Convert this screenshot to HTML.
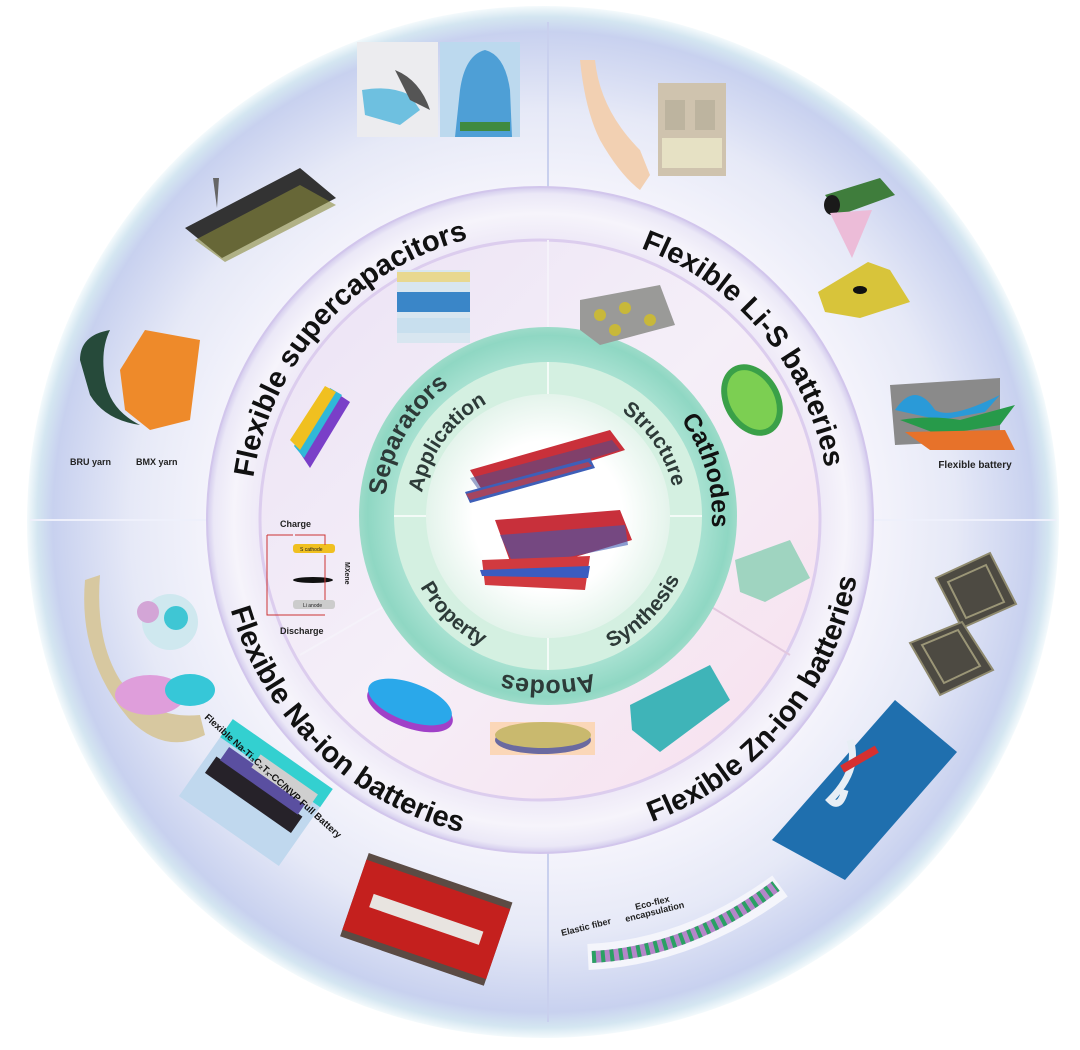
<!DOCTYPE html>
<html><head><meta charset="utf-8">
<style>
html,body{margin:0;padding:0;background:#fff;}
svg{display:block;}
text{font-family:"Liberation Sans","DejaVu Sans",sans-serif;}
</style></head>
<body>
<svg width="1080" height="1050" viewBox="0 0 1080 1050" xmlns="http://www.w3.org/2000/svg">
<defs>
<radialGradient id="outer" cx="543" cy="522" r="516" gradientUnits="userSpaceOnUse">
<stop offset="0.62" stop-color="#f6f5fc"/>
<stop offset="0.8" stop-color="#e6e9f7"/>
<stop offset="0.95" stop-color="#c8d1ef"/>
<stop offset="0.98" stop-color="#d4e6f1"/>
<stop offset="1" stop-color="#f4fafc"/>
</radialGradient>
<radialGradient id="band" cx="540" cy="520" r="333" gradientUnits="userSpaceOnUse">
<stop offset="0.84" stop-color="#eee9f7"/>
<stop offset="0.92" stop-color="#f6f4fb"/>
<stop offset="0.98" stop-color="#ebe8f7"/>
<stop offset="1" stop-color="#d3cbed"/>
</radialGradient>
<linearGradient id="inner" x1="0" y1="0" x2="1" y2="1">
<stop offset="0" stop-color="#ebe2f5"/>
<stop offset="0.5" stop-color="#f5eff8"/>
<stop offset="1" stop-color="#f8dfed"/>
</linearGradient>
<radialGradient id="teal" cx="548" cy="516" r="190" gradientUnits="userSpaceOnUse">
<stop offset="0.8" stop-color="#a9e2d2"/>
<stop offset="0.95" stop-color="#8fd7c3"/>
<stop offset="1" stop-color="#9fdcca"/>
</radialGradient>
<radialGradient id="center" cx="548" cy="516" r="125" gradientUnits="userSpaceOnUse">
<stop offset="0.6" stop-color="#ffffff"/>
<stop offset="1" stop-color="#e2f3ea"/>
</radialGradient>
<path id="pSup" d="M284,656 A290,290 0 0 1 648.6,251.1"/>
<path id="pLiS" d="M440.8,247.5 A290,290 0 0 1 791.1,665"/>
<path id="pZn" d="M429.9,822.6 A322,322 0 0 0 818.9,359"/>
<path id="pNa" d="M245.8,389 A322,322 0 0 0 681.2,809.4"/>
<path id="pSep" d="M406,598 A164,164 0 0 1 548,352"/>
<path id="pCat" d="M587.7,356.9 A164,164 0 0 1 666,629.9"/>
<path id="pAno" d="M690,598 A164,164 0 0 1 406,598"/>
<path id="pApp" d="M431.1,568.1 A128,128 0 0 1 561.4,388.7"/>
<path id="pStr" d="M539.1,388.3 A128,128 0 0 1 663,572.1"/>
<path id="pPro" d="M406.3,480.7 A146,146 0 0 0 588.2,656.3"/>
<path id="pSyn" d="M510.2,657 A146,146 0 0 0 689,478.2"/>
</defs>

<rect width="1080" height="1050" fill="#fff"/>
<circle cx="543" cy="522" r="516" fill="url(#outer)"/>
<line x1="548" y1="22" x2="548" y2="187" stroke="#c9d0ee" stroke-width="2"/>
<line x1="548" y1="852" x2="548" y2="1022" stroke="#c9d0ee" stroke-width="2"/>
<line x1="30" y1="520" x2="207" y2="520" stroke="#eef0fb" stroke-width="2"/>
<line x1="873" y1="520" x2="1056" y2="520" stroke="#eef0fb" stroke-width="2"/>

<circle cx="540" cy="520" r="333" fill="url(#band)"/>
<circle cx="540" cy="520" r="333" fill="none" stroke="#d2c6ec" stroke-width="2"/>
<circle cx="540" cy="520" r="280" fill="url(#inner)"/>
<circle cx="540" cy="520" r="280" fill="none" stroke="#dccdee" stroke-width="3"/>
<line x1="300" y1="655" x2="395" y2="600" stroke="#f5f2fa" stroke-width="2"/>
<line x1="700" y1="600" x2="790" y2="655" stroke="#e2c8df" stroke-width="2"/>
<line x1="548" y1="240" x2="548" y2="330" stroke="#f5f2fa" stroke-width="2"/>

<circle cx="548" cy="516" r="189" fill="url(#teal)"/>
<circle cx="548" cy="516" r="154" fill="#d4f0e1"/>
<circle cx="548" cy="516" r="122" fill="url(#center)"/>
<line x1="548" y1="362" x2="548" y2="394" stroke="#f3fbf7" stroke-width="2"/>
<line x1="548" y1="638" x2="548" y2="670" stroke="#f3fbf7" stroke-width="2"/>
<line x1="394" y1="516" x2="426" y2="516" stroke="#f3fbf7" stroke-width="2"/>
<line x1="670" y1="516" x2="702" y2="516" stroke="#f3fbf7" stroke-width="2"/>

<g>
<path d="M470,470 L610,430 L625,450 L485,495 Z" fill="#c9303a"/>
<path d="M470,478 L612,440 L620,450 L480,492 Z" fill="#3a4f9a" opacity="0.5"/>
<path d="M465,492 L590,458 L595,468 L470,503 Z" fill="#3e5fb8"/>
<path d="M466,494 L588,462 L592,466 L470,500 Z" fill="#d03a3a" opacity="0.7"/>
<path d="M495,520 L620,510 L632,540 L515,575 Z" fill="#c8303b"/>
<path d="M500,535 L625,525 L628,545 L515,568 Z" fill="#3d58b0" opacity="0.6"/>
<path d="M482,560 L590,556 L585,590 L485,585 Z" fill="#d13a3f"/>
<path d="M480,570 L590,566 L588,578 L482,576 Z" fill="#3b5cc0"/>
</g>

<g font-weight="bold" fill="#111" font-size="29">
<text><textPath href="#pSup" startOffset="50%" text-anchor="middle">Flexible supercapacitors</textPath></text>
<text><textPath href="#pLiS" startOffset="50%" text-anchor="middle">Flexible Li-S batteries</textPath></text>
<text><textPath href="#pZn" startOffset="50%" text-anchor="middle">Flexible Zn-ion batteries</textPath></text>
<text><textPath href="#pNa" startOffset="50%" text-anchor="middle">Flexible Na-ion batteries</textPath></text>
</g>
<g font-weight="bold" fill="#2d3a38" font-size="25">
<text><textPath href="#pSep" startOffset="50%" text-anchor="middle">Separators</textPath></text>
<text fill="#111"><textPath href="#pCat" startOffset="50%" text-anchor="middle">Cathodes</textPath></text>
<text><textPath href="#pAno" startOffset="50%" text-anchor="middle">Anodes</textPath></text>
</g>
<g fill="#2d3a38" font-size="21" font-weight="bold">
<text><textPath href="#pApp" startOffset="50%" text-anchor="middle">Application</textPath></text>
<text><textPath href="#pStr" startOffset="50%" text-anchor="middle">Structure</textPath></text>
<text><textPath href="#pPro" startOffset="50%" text-anchor="middle">Property</textPath></text>
<text><textPath href="#pSyn" startOffset="50%" text-anchor="middle">Synthesis</textPath></text>
</g>

<!-- top photos -->
<rect x="357" y="42" width="81" height="95" fill="#ececef"/>
<path d="M362,90 Q390,85 410,95 L420,110 L400,125 L365,115 Z" fill="#6ec0e0"/>
<path d="M395,70 Q420,80 430,110 L410,100 Z" fill="#555"/>
<rect x="440" y="42" width="80" height="95" fill="#bcd9ee"/>
<path d="M455,137 L460,90 Q465,55 485,50 Q505,55 510,90 L512,137 Z" fill="#4e9fd6"/>
<rect x="460" y="122" width="50" height="9" fill="#3f8a3f"/>
<path d="M580,60 L595,60 Q600,110 640,150 L650,175 L640,190 Q620,175 600,140 Q585,110 580,60 Z" fill="#f2d0b2"/>
<rect x="658" y="83" width="68" height="93" fill="#cfc3ae"/>
<rect x="665" y="100" width="20" height="30" fill="#bdb49f"/>
<rect x="695" y="100" width="20" height="30" fill="#bdb49f"/>
<rect x="662" y="138" width="60" height="30" fill="#e6e1c4"/>
<path d="M825,195 L880,178 L895,195 L840,215 Z" fill="#3f7d3c"/>
<ellipse cx="832" cy="205" rx="8" ry="10" fill="#1a1a1a"/>
<path d="M830,213 L872,210 L852,258 Z" fill="#ecbcd8"/>
<path d="M818,292 L868,262 L890,270 L910,302 L860,318 L825,312 Z" fill="#d8c43a"/>
<ellipse cx="860" cy="290" rx="7" ry="4" fill="#111"/>
<path d="M890,385 L1000,378 L1000,440 L895,445 Z" fill="#8a8a8a"/>
<path d="M895,410 Q915,380 935,410 Q950,420 1000,395 L985,412 L940,420 Z" fill="#2a9ad8"/>
<path d="M900,420 Q930,415 960,420 L1015,405 L1000,425 L940,435 Z" fill="#279a4a"/>
<path d="M905,432 L1005,430 L1015,450 L930,450 Z" fill="#e7722a"/>
<text x="975" y="468" font-size="10" font-weight="bold" text-anchor="middle" fill="#222">Flexible battery</text>
<g fill="#4d4a42" stroke="#8f8a6e" stroke-width="2">
<polygon points="936,578 990,553 1016,604 962,628"/>
<polygon points="910,643 962,622 993,670 940,695"/>
</g>
<g fill="none" stroke="#9b9677" stroke-width="2">
<polygon points="948,582 986,565 1004,602 966,618"/>
<polygon points="922,645 958,630 980,666 944,683"/>
</g>
<polygon points="895,700 957,752 845,880 772,840" fill="#1f6fae"/>
<path d="M850,740 Q860,770 830,800 Q840,810 845,790" stroke="#e7eef5" stroke-width="7" fill="none"/>
<rect x="840" y="755" width="40" height="8" fill="#d63030" transform="rotate(-30 860 760)"/>
<!-- fiber -->
<path d="M588,957 Q690,952 780,886" stroke="#f4f5fb" stroke-width="26" fill="none"/>
<path d="M592,957 Q690,952 776,886" stroke="#b486c9" stroke-width="12" fill="none"/>
<path d="M592,957 Q690,952 776,886" stroke="#2aa064" stroke-width="12" stroke-dasharray="4 5" fill="none"/>
<text x="562" y="936" font-size="9" font-weight="bold" fill="#222" transform="rotate(-14 562 936)">Elastic fiber</text>
<text x="636" y="910" font-size="9" font-weight="bold" fill="#222" transform="rotate(-14 636 910)">Eco-flex</text>
<text x="626" y="922" font-size="9" font-weight="bold" fill="#222" transform="rotate(-14 626 922)">encapsulation</text>
<!-- red knit -->
<g transform="rotate(19 425 920)">
<rect x="350" y="875" width="152" height="88" fill="#5b4b44"/>
<rect x="350" y="882" width="152" height="74" fill="#c4201e"/>
<rect x="368" y="912" width="116" height="14" fill="#e8e4e0"/>
</g>
<!-- Na battery -->
<g transform="rotate(35 255 792)">
<rect x="195" y="745" width="122" height="94" fill="#c0d8ee"/>
<rect x="195" y="745" width="122" height="22" fill="#33d0d0"/>
<rect x="203" y="785" width="105" height="20" fill="#262229"/>
<rect x="208" y="770" width="95" height="16" fill="#5a4fa0"/>
<rect x="238" y="758" width="70" height="16" fill="#cfcfcf"/>
</g>
<text font-size="9.5" font-weight="bold" fill="#111" transform="translate(204,718) rotate(42)">Flexible Na-Ti₃C₂Tₓ-CC/NVP Full Battery</text>
<path d="M85,580 Q78,660 130,720 Q165,755 205,735 L200,715 Q150,720 120,680 Q95,640 100,575 Z" fill="#d7c8a0"/>
<circle cx="170" cy="622" r="28" fill="#cfe8ef"/>
<circle cx="148" cy="612" r="11" fill="#d3a5d6"/>
<circle cx="176" cy="618" r="12" fill="#3fc6d4"/>
<ellipse cx="150" cy="695" rx="35" ry="20" fill="#df9edb"/>
<ellipse cx="190" cy="690" rx="25" ry="16" fill="#36c7d8"/>
<path d="M120,370 L145,330 L200,340 L190,420 L150,430 L125,410 Z" fill="#ee8a2a"/>
<path d="M80,360 Q80,335 110,330 Q100,350 105,380 Q110,410 140,425 Q105,420 90,395 Z" fill="#264a3a"/>
<text x="70" y="465" font-size="9" font-weight="bold" fill="#222">BRU yarn</text>
<text x="136" y="465" font-size="9" font-weight="bold" fill="#222">BMX yarn</text>
<polygon points="185,228 300,168 336,198 222,258" fill="#333"/>
<polygon points="195,240 300,185 336,205 225,262" fill="#8a8a3a" opacity="0.6"/>
<path d="M213,178 L219,178 L217,208 Z" fill="#666"/>
<!-- inner images -->
<rect x="397" y="270" width="73" height="73" fill="#d8e6f0"/>
<rect x="397" y="272" width="73" height="10" fill="#e8d890"/>
<rect x="397" y="292" width="73" height="20" fill="#3a86c8"/>
<rect x="397" y="318" width="73" height="15" fill="#c8dfee"/>
<polygon points="298,450 335,392 350,402 310,468" fill="#7a3fc8"/>
<polygon points="294,446 330,388 342,395 304,458" fill="#30b8d8"/>
<polygon points="290,440 325,386 336,392 300,450" fill="#f0c020"/>
<polygon points="580,300 660,285 675,325 600,345 580,330" fill="#9a9a98"/>
<circle cx="600" cy="315" r="6" fill="#c8b83a"/><circle cx="625" cy="308" r="6" fill="#c8b83a"/><circle cx="650" cy="320" r="6" fill="#c8b83a"/><circle cx="615" cy="330" r="6" fill="#c8b83a"/>
<ellipse cx="752" cy="400" rx="28" ry="38" fill="#3aa048" transform="rotate(-30 752 400)"/>
<ellipse cx="752" cy="400" rx="22" ry="32" fill="#7ccf52" transform="rotate(-30 752 400)"/>
<polygon points="735,560 790,540 810,578 765,602 740,592" fill="#9fd4c0"/>
<polygon points="630,705 710,665 730,700 660,752 632,730" fill="#3fb4b8"/>
<rect x="490" y="722" width="105" height="33" fill="#fbd7b8"/>
<ellipse cx="543" cy="740" rx="48" ry="14" fill="#6a6aa0"/>
<ellipse cx="543" cy="735" rx="48" ry="13" fill="#c9b96e"/>
<ellipse cx="410" cy="708" rx="45" ry="20" fill="#a040c8" transform="rotate(20 410 708)"/>
<ellipse cx="410" cy="702" rx="44" ry="19" fill="#2aa8ea" transform="rotate(20 410 702)"/>
<text x="280" y="527" font-size="9" font-weight="bold" fill="#222">Charge</text>
<rect x="293" y="544" width="42" height="9" rx="3" fill="#f0c020"/>
<text x="300" y="551" font-size="5" fill="#222">S cathode</text>
<ellipse cx="313" cy="580" rx="20" ry="3" fill="#111"/>
<rect x="293" y="600" width="42" height="9" rx="3" fill="#ccc"/>
<text x="303" y="607" font-size="5" fill="#222">Li anode</text>
<path d="M295,535 L325,535 L325,545 M293,615 L325,615 M267,535 L267,615 L293,615 M267,535 L293,535" stroke="#c33" stroke-width="1" fill="none"/>
<line x1="325" y1="555" x2="325" y2="600" stroke="#c33"/>
<text x="280" y="634" font-size="9" font-weight="bold" fill="#222">Discharge</text>
<text x="345" y="562" font-size="7" font-weight="bold" fill="#222" transform="rotate(90 345 562)">MXene</text>
</svg>
</body></html>
